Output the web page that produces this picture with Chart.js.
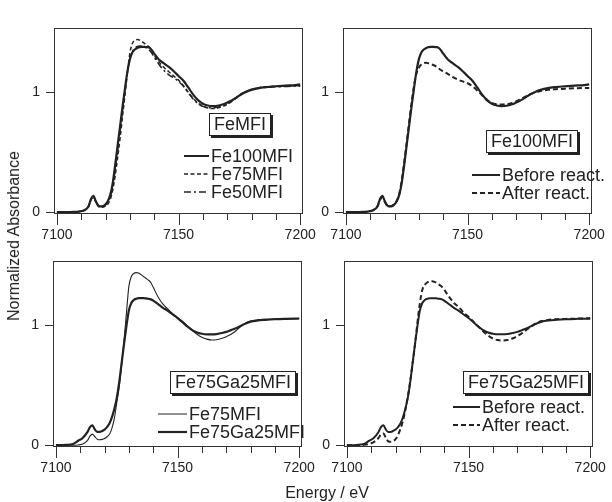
<!DOCTYPE html>
<html>
<head>
<meta charset="utf-8">
<script src="https://cdn.jsdelivr.net/npm/chart.js@4.4.0/dist/chart.umd.min.js"></script>
<style>
body { margin: 0; background: #fff; width: 612px; height: 502px; position: relative; overflow: hidden; font-family: "Liberation Sans", Arial, sans-serif; color: #222; }
canvas.panel { position: absolute; }
.title-box { position: absolute; border: 1px solid #222; box-shadow: 2px 2px 0 #222; font-size: 18px; line-height: 21px; padding: 0 4px; background: #fff; white-space: nowrap; }
.row { position: absolute; font-size: 18px; line-height: 20px; white-space: nowrap; }
.sample { position: absolute; }
.ytitle { position: absolute; left: 14px; top: 236px; transform: translate(-50%, -50%) rotate(-90deg); font-size: 16px; white-space: nowrap; color: #222; }
.xtitle { position: absolute; left: 327px; top: 493px; transform: translate(-50%, -50%); font-size: 16px; white-space: nowrap; }
</style>
</head>
<body>
<canvas id="tl" class="panel" width="325" height="248"></canvas>
<canvas id="tr" class="panel" width="325" height="248"></canvas>
<canvas id="bl" class="panel" width="325" height="248"></canvas>
<canvas id="br" class="panel" width="325" height="248"></canvas>

<div class="ytitle">Normalized Absorbance</div>
<div class="xtitle">Energy / eV</div>

<!-- top left -->
<div class="title-box" style="left:209px;top:113px">FeMFI</div>
<svg class="sample" style="left:184px;top:151px" width="25" height="10"><line x1="0" y1="5" x2="25" y2="5" stroke="#222" stroke-width="2"/></svg>
<div class="row" style="left:211px;top:146px">Fe100MFI</div>
<svg class="sample" style="left:184px;top:169px" width="25" height="10"><line x1="0" y1="5" x2="25" y2="5" stroke="#222" stroke-width="1.5" stroke-dasharray="4 2.5"/></svg>
<div class="row" style="left:211px;top:164px">Fe75MFI</div>
<svg class="sample" style="left:184px;top:187px" width="25" height="10"><line x1="0" y1="5" x2="25" y2="5" stroke="#222" stroke-width="1.5" stroke-dasharray="7 3 2 3"/></svg>
<div class="row" style="left:211px;top:182px">Fe50MFI</div>

<!-- top right -->
<div class="title-box" style="left:486px;top:130px">Fe100MFI</div>
<svg class="sample" style="left:472px;top:170px" width="28" height="10"><line x1="0" y1="5" x2="28" y2="5" stroke="#222" stroke-width="2"/></svg>
<div class="row" style="left:502px;top:165px">Before react.</div>
<svg class="sample" style="left:472px;top:188px" width="28" height="10"><line x1="0" y1="5" x2="28" y2="5" stroke="#222" stroke-width="2" stroke-dasharray="5 3"/></svg>
<div class="row" style="left:502px;top:183px">After react.</div>

<!-- bottom left -->
<div class="title-box" style="left:170px;top:371px">Fe75Ga25MFI</div>
<svg class="sample" style="left:158px;top:409px" width="29" height="10"><line x1="0" y1="5" x2="29" y2="5" stroke="#222" stroke-width="1"/></svg>
<div class="row" style="left:189px;top:404px">Fe75MFI</div>
<svg class="sample" style="left:158px;top:427px" width="29" height="10"><line x1="0" y1="5" x2="29" y2="5" stroke="#222" stroke-width="2.2"/></svg>
<div class="row" style="left:189px;top:422px">Fe75Ga25MFI</div>

<!-- bottom right -->
<div class="title-box" style="left:463px;top:371px">Fe75Ga25MFI</div>
<svg class="sample" style="left:453px;top:402px" width="27" height="10"><line x1="0" y1="5" x2="27" y2="5" stroke="#222" stroke-width="2"/></svg>
<div class="row" style="left:482px;top:397px">Before react.</div>
<svg class="sample" style="left:453px;top:420px" width="27" height="10"><line x1="0" y1="5" x2="27" y2="5" stroke="#222" stroke-width="2" stroke-dasharray="5 3"/></svg>
<div class="row" style="left:482px;top:415px">After react.</div>

<script>
// energy grid (eV), denser on the edge
var energy = [7100, 7104, 7107, 7109, 7111, 7113,
    7114, 7115, 7116, 7117, 7118, 7119, 7120, 7121, 7122, 7123, 7124, 7125, 7126, 7127, 7128, 7129, 7130,
    7131, 7132, 7133, 7134, 7135, 7136, 7137, 7138, 7139, 7140,
    7142, 7144, 7146, 7148, 7150, 7152, 7154, 7156, 7158, 7160, 7162, 7164, 7166, 7168, 7170, 7172, 7174, 7176, 7178, 7180,
    7183, 7186, 7190, 7194, 7198, 7200];

// Fe100MFI (top left solid, also "Before react." top right)
var fe100 = [0, 0, 0.002, 0.005, 0.015, 0.05,
    0.11, 0.135, 0.09, 0.055, 0.048, 0.05, 0.065, 0.095, 0.15, 0.25, 0.40, 0.56, 0.72, 0.88, 1.03, 1.17, 1.27,
    1.325, 1.35, 1.363, 1.37, 1.372, 1.372, 1.37, 1.365, 1.345, 1.315,
    1.265, 1.235, 1.205, 1.17, 1.13, 1.09, 1.035, 0.975, 0.93, 0.9, 0.885, 0.88, 0.883, 0.893, 0.91, 0.93, 0.955, 0.98, 1.0, 1.015,
    1.03, 1.038, 1.045, 1.05, 1.055, 1.06];

var fe75 = [0, 0, 0.001, 0.004, 0.012, 0.045,
    0.1, 0.125, 0.085, 0.05, 0.04, 0.042, 0.05, 0.07, 0.11, 0.19, 0.31, 0.46, 0.62, 0.8, 0.98, 1.16, 1.32,
    1.4, 1.425, 1.432, 1.428, 1.415, 1.4, 1.385, 1.37, 1.34, 1.3,
    1.245, 1.2, 1.165, 1.13, 1.095, 1.05, 0.995, 0.945, 0.905, 0.88, 0.865, 0.86, 0.864, 0.876, 0.895, 0.92, 0.95, 0.98, 1.005, 1.02,
    1.033, 1.04, 1.045, 1.048, 1.05, 1.05];

var fe50 = [0, 0, 0.002, 0.005, 0.014, 0.048,
    0.105, 0.13, 0.088, 0.053, 0.045, 0.047, 0.06, 0.085, 0.13, 0.22, 0.36, 0.52, 0.68, 0.85, 1.01, 1.16, 1.27,
    1.33, 1.36, 1.375, 1.38, 1.378, 1.372, 1.36, 1.345, 1.32, 1.285,
    1.225, 1.175, 1.14, 1.115, 1.085, 1.045, 0.99, 0.94, 0.9, 0.878, 0.868, 0.866, 0.87, 0.882, 0.9, 0.925, 0.955, 0.985, 1.005, 1.02,
    1.03, 1.035, 1.04, 1.043, 1.045, 1.045];

// Fe100MFI after reaction
var fe100After = [0, 0, 0.002, 0.005, 0.015, 0.05,
    0.1, 0.125, 0.085, 0.055, 0.05, 0.055, 0.07, 0.1, 0.16, 0.27, 0.42, 0.58, 0.75, 0.91, 1.05, 1.15, 1.2,
    1.225, 1.237, 1.24, 1.235, 1.228, 1.22, 1.21, 1.195, 1.18, 1.168,
    1.145, 1.12, 1.1, 1.085, 1.07, 1.045, 1.01, 0.97, 0.93, 0.905, 0.895, 0.893, 0.897, 0.905, 0.92, 0.94, 0.96, 0.98, 0.995, 1.005,
    1.015, 1.02, 1.025, 1.028, 1.03, 1.03];

// Fe75MFI as plotted in bottom left (thin)
var fe75b = [0, 0, 0, 0.002, 0.01, 0.04,
    0.075, 0.092, 0.07, 0.05, 0.045, 0.048, 0.055, 0.07, 0.09, 0.14, 0.22, 0.35, 0.48, 0.66, 0.87, 1.1, 1.32,
    1.4, 1.425, 1.432, 1.428, 1.415, 1.4, 1.385, 1.37, 1.35, 1.31,
    1.23, 1.17, 1.13, 1.09, 1.06, 1.03, 0.99, 0.955, 0.92, 0.895, 0.88, 0.873, 0.875, 0.885, 0.9, 0.92, 0.95, 0.985, 1.015, 1.03,
    1.04, 1.045, 1.048, 1.05, 1.05, 1.052];

// Fe75Ga25MFI (bottom left thick, also "Before react." bottom right)
var fe75ga25 = [0, 0.002, 0.01, 0.035, 0.06, 0.11,
    0.15, 0.165, 0.13, 0.11, 0.11, 0.118, 0.13, 0.15, 0.18, 0.23, 0.3, 0.39, 0.52, 0.68, 0.84, 0.99, 1.12,
    1.18, 1.205, 1.215, 1.22, 1.22, 1.22, 1.218, 1.215, 1.21, 1.2,
    1.17, 1.14, 1.115, 1.085, 1.055, 1.02, 0.985, 0.955, 0.935, 0.925, 0.92, 0.92, 0.922, 0.93, 0.94, 0.955, 0.97, 0.99, 1.01, 1.025,
    1.035, 1.04, 1.045, 1.048, 1.05, 1.05];

var fe75ga25After = [0, 0, 0.003, 0.01, 0.025, 0.06,
    0.09, 0.098, 0.06, 0.032, 0.028, 0.035, 0.05, 0.085, 0.135, 0.2, 0.29, 0.4, 0.53, 0.68, 0.84, 1.02, 1.18,
    1.29, 1.33, 1.35, 1.36, 1.36, 1.355, 1.345, 1.33, 1.315, 1.29,
    1.23, 1.18, 1.145, 1.1, 1.065, 1.025, 0.985, 0.945, 0.91, 0.885, 0.872, 0.868, 0.872, 0.885, 0.905, 0.93, 0.96, 0.99, 1.015, 1.03,
    1.04, 1.045, 1.048, 1.05, 1.052, 1.055];

var xTicks = [7100, 7110, 7120, 7130, 7140, 7150, 7160, 7170, 7180, 7190, 7200];
var xLabels = [7100, 7150, 7200];
var yTicks = [0, 1];

var FONT = '"Liberation Sans", Arial, sans-serif';
var INK = '#222';

// box around the plot + outside tick marks
var framePlugin = {
    id: 'frame',
    afterDraw: function (chart) {
        var ctx = chart.ctx;
        var a = chart.chartArea;
        var xs = chart.scales.x;
        var ys = chart.scales.y;
        ctx.save();
        ctx.strokeStyle = '#333';
        ctx.lineWidth = 1;
        ctx.strokeRect(Math.round(a.left) + 0.5, Math.round(a.top) + 0.5, Math.round(a.width) - 1, Math.round(a.height) - 1);
        ctx.beginPath();
        xs.ticks.forEach(function (t) {
            var px = Math.round(xs.getPixelForValue(t.value)) + 0.5;
            var len = (t.value % 50 == 0) ? 11 : 6;
            ctx.moveTo(px, a.bottom);
            ctx.lineTo(px, a.bottom + len);
        });
        ys.ticks.forEach(function (t) {
            var py = Math.round(ys.getPixelForValue(t.value)) + 0.5;
            ctx.moveTo(a.left - 8, py);
            ctx.lineTo(a.left + 1, py);
        });
        ctx.stroke();
        ctx.restore();
    }
};

function toPoints(values) {
    return energy.map(function (e, i) {
        return { x: e, y: values[i] };
    });
}

function line(values, width, dash) {
    return {
        data: toPoints(values),
        borderColor: INK,
        borderWidth: width,
        borderDash: dash || [],
        pointRadius: 0,
        fill: false,
        cubicInterpolationMode: 'monotone'
    };
}

// left/top = where the plot frame should sit on the page
function getPanel(id, left, top, datasets) {
    var canvas = document.getElementById(id);
    canvas.style.left = (left - 50) + 'px';
    canvas.style.top = (top - 6) + 'px';

    new Chart(canvas, {
        type: 'line',
        data: { datasets: datasets },
        plugins: [framePlugin],
        options: {
            responsive: false,
            animation: false,
            events: [],
            layout: { padding: { top: 6, right: 20, left: 0, bottom: 0 } },
            plugins: { legend: { display: false }, tooltip: { enabled: false } },
            scales: {
                x: {
                    type: 'linear',
                    min: 7098.8,
                    max: 7201.2,
                    grid: { display: false, drawTicks: false },
                    border: { display: false },
                    afterBuildTicks: function (s) {
                        s.ticks = xTicks.map(function (v) { return { value: v }; });
                    },
                    afterFit: function (s) { s.height = 40; },
                    ticks: {
                        autoSkip: false,
                        maxRotation: 0,
                        padding: 13,
                        color: INK,
                        font: { family: FONT, size: 14 },
                        callback: function (v) {
                            return xLabels.indexOf(v) >= 0 ? String(v) : '';
                        }
                    }
                },
                y: {
                    type: 'linear',
                    min: -0.015,
                    max: 1.525,
                    grid: { display: false, drawTicks: false },
                    border: { display: false },
                    afterBuildTicks: function (s) {
                        s.ticks = yTicks.map(function (v) { return { value: v }; });
                    },
                    afterFit: function (s) { s.width = 50; },
                    ticks: {
                        padding: 14,
                        color: INK,
                        font: { family: FONT, size: 14 },
                        callback: function (v) { return String(v); }
                    }
                }
            }
        }
    });
}

getPanel('tl', 54, 12, [
    line(fe50, 1.5, [7, 3, 2, 3]),
    line(fe75, 1.5, [4, 2.5]),
    line(fe100, 2.2)
]);
getPanel('tr', 343, 12, [
    line(fe100After, 2, [5, 3]),
    line(fe100, 2.2)
]);
getPanel('bl', 53, 245, [
    line(fe75b, 1.1),
    line(fe75ga25, 2.2)
]);
getPanel('br', 344, 245, [
    line(fe75ga25After, 2, [5, 3]),
    line(fe75ga25, 2)
]);
</script>
</body>
</html>
